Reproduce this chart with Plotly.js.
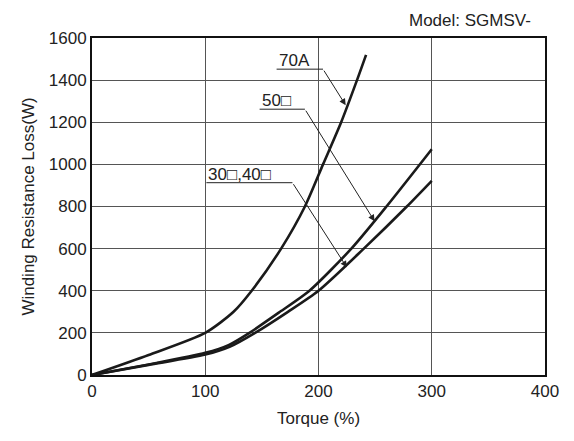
<!DOCTYPE html>
<html>
<head>
<meta charset="utf-8">
<script src="https://cdn.plot.ly/plotly-3.0.1.min.js"></script>
<style>html,body{margin:0;padding:0;background:#fff;}#chart{width:574px;height:441px;}</style>
</head>
<body>
<div id="chart"></div>
<script>
// Series data
const torque70A = [0, 50, 100, 125, 141, 167, 188, 204, 220, 234, 242];
const loss70A   = [0, 95, 200, 300, 400, 600, 800, 1000, 1200, 1400, 1520];

const torque50 = [0, 50, 100, 121, 139, 166, 192, 229, 260, 300];
const loss50   = [0, 50, 105, 143, 200, 300, 400, 600, 800, 1072];

const torque3040 = [0, 50, 100, 122, 144, 173, 200, 240, 278, 300];
const loss3040   = [0, 48, 97, 135, 200, 300, 400, 600, 800, 922];

const xTicks = [0, 100, 200, 300, 400];
const yTicks = [0, 200, 400, 600, 800, 1000, 1200, 1400, 1600];

// Label callouts: [text, underline x start, underline x end, underline y, arrow tip x, arrow tip y]
const labelText  = ['70A', '50\u25A1', '30\u25A1,40\u25A1'];
const labelX0    = [163, 148, 101];
const labelX1    = [204, 188, 177];
const labelY     = [1452, 1262, 913];
const arrowTipX  = [224, 249.5, 225];
const arrowTipY  = [1281, 730, 511];

const FONT = 'Liberation Sans, Arial, Helvetica, sans-serif';
const TXT = '#222';

const lineStyle = {color: '#1a1a1a', width: 2.6, shape: 'spline', smoothing: 0.7};
const traces = [
  {x: torque70A, y: loss70A, mode: 'lines', line: lineStyle, name: '70A', hoverinfo: 'skip'},
  {x: torque50, y: loss50, mode: 'lines', line: lineStyle, name: '50', hoverinfo: 'skip'},
  {x: torque3040, y: loss3040, mode: 'lines', line: lineStyle, name: '30,40', hoverinfo: 'skip'}
];

const shapes = [];
const annotations = [];
for (let i = 0; i < labelText.length; i++) {
  shapes.push({type: 'line', xref: 'x', yref: 'y', x0: labelX0[i], x1: labelX1[i], y0: labelY[i], y1: labelY[i],
               line: {color: TXT, width: 1}});
  annotations.push({x: labelX0[i], y: labelY[i], xref: 'x', yref: 'y', text: labelText[i], showarrow: false,
                    xanchor: 'left', yanchor: 'bottom', xshift: 0, yshift: -3,
                    font: {family: FONT, size: 17, color: TXT}});
  annotations.push({x: arrowTipX[i], y: arrowTipY[i], xref: 'x', yref: 'y', ax: labelX1[i], ay: labelY[i],
                    axref: 'x', ayref: 'y', text: '', showarrow: true, arrowhead: 2, arrowsize: 1.3,
                    arrowwidth: 1, arrowcolor: TXT, standoff: 0, startstandoff: 0});
}
annotations.push({xref: 'paper', yref: 'paper', x: 1.0, y: 1.0, xanchor: 'right', yanchor: 'bottom',
                  xshift: -12, yshift: 6, text: 'Model: SGMSV-', showarrow: false,
                  font: {family: FONT, size: 17, color: TXT}});

const layout = {
  width: 574, height: 441,
  margin: {l: 92, r: 29, t: 38, b: 66},
  paper_bgcolor: '#fff', plot_bgcolor: '#fff',
  showlegend: false,
  font: {family: FONT, size: 17, color: TXT},
  xaxis: {
    range: [0, 400], tickvals: xTicks, ticktext: xTicks.map(String), ticks: '',
    showgrid: true, gridcolor: '#555', gridwidth: 1, zeroline: false,
    showline: true, linecolor: '#111', linewidth: 2, mirror: true,
    title: {text: 'Torque (%)', font: {family: FONT, size: 17, color: TXT}, standoff: 12},
    tickfont: {family: FONT, size: 17, color: TXT}, fixedrange: true
  },
  yaxis: {
    range: [0, 1600], tickvals: yTicks, ticktext: yTicks.map(String), ticks: '',
    showgrid: true, gridcolor: '#555', gridwidth: 1, zeroline: false,
    showline: true, linecolor: '#111', linewidth: 2, mirror: true,
    title: {text: 'Winding Resistance Loss(W)', font: {family: FONT, size: 17, color: TXT}, standoff: 10},
    tickfont: {family: FONT, size: 17, color: TXT}, fixedrange: true
  },
  shapes: shapes,
  annotations: annotations
};

Plotly.newPlot('chart', traces, layout, {displayModeBar: false, staticPlot: true});
</script>
</body>
</html>
